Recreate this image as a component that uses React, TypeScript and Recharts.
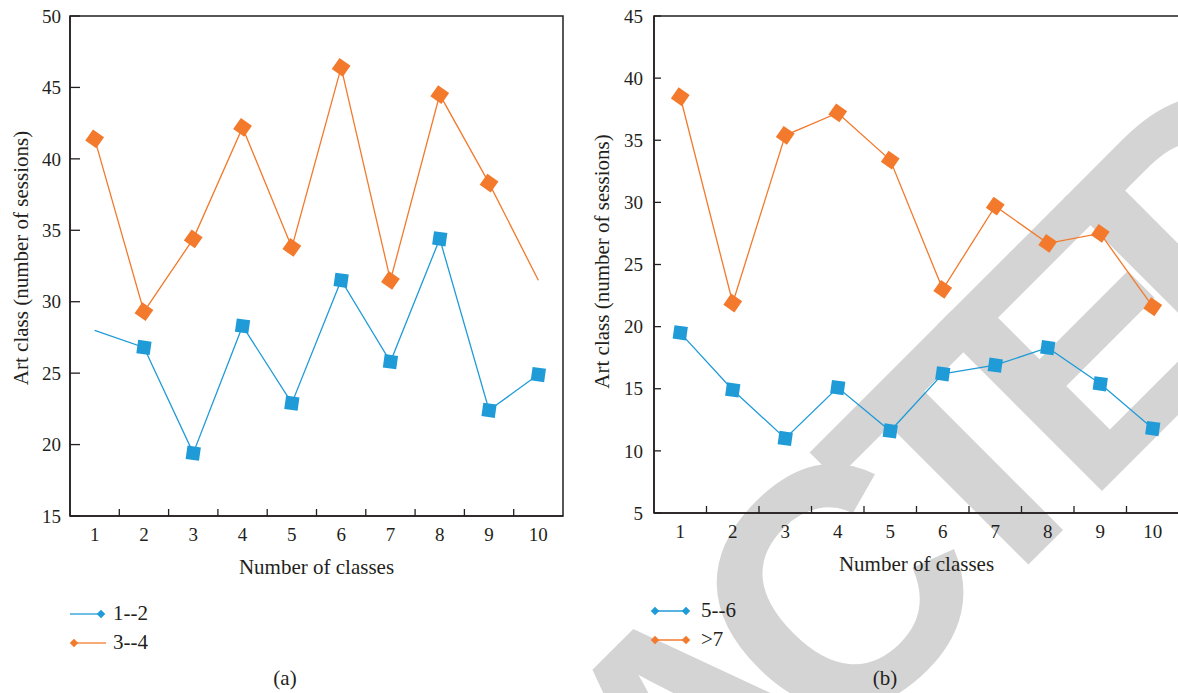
import React from 'react';
import { LineChart, Line, XAxis, YAxis, ReferenceArea } from 'recharts';

const classes = [1, 2, 3, 4, 5, 6, 7, 8, 9, 10];

// panel (a)
const grade12 = [28.0, 26.8, 19.4, 28.3, 22.9, 31.5, 25.8, 34.4, 22.4, 24.9];
const grade34 = [41.4, 29.3, 34.4, 42.2, 33.8, 46.4, 31.5, 44.5, 38.3, 31.5];
// panel (b)
const grade56 = [19.5, 14.9, 11.0, 15.1, 11.6, 16.2, 16.9, 18.3, 15.4, 11.8];
const grade7 = [38.5, 21.9, 35.4, 37.2, 33.4, 23.0, 29.7, 26.7, 27.5, 21.6];

const yTicksA = [15, 20, 25, 30, 35, 40, 45, 50];
const yTicksB = [5, 10, 15, 20, 25, 30, 35, 40, 45];

// points drawn without a marker in the original figure
const bareA12 = [0];
const bareA34 = [9];

const names = { a12: '1--2', a34: '3--4', b56: '5--6', b7: '>7' };

const BLUE = '#1f9bd7';
const ORANGE = '#f37a2c';
const INK = '#231f20';
const FONT = '"Liberation Serif", "DejaVu Serif", serif';
const X_TICK_MARGIN = 12;

const dataA = classes.map((c, i) => ({ cls: c, a12: grade12[i], a34: grade34[i] }));
const dataB = classes.map((c, i) => ({ cls: c, b56: grade56[i], b7: grade7[i] }));

// labels on the classes, small marks half way between them
const xTicks = classes.flatMap((c, i) => (i < classes.length - 1 ? [c, c + 0.5] : [c]));

const XTick = (props: any) => {
  const { x, y, payload } = props;
  const v = payload.value;
  if (Number.isInteger(v)) {
    return (
      <text x={x} y={y} dy="0.71em" textAnchor="middle" fontSize={19} fill={INK} fontFamily={FONT}>
        {v}
      </text>
    );
  }
  const axisY = y - X_TICK_MARGIN;
  return <line x1={x} x2={x} y1={axisY} y2={axisY - 7} stroke={INK} strokeWidth={1.3} />;
};

const makeDot = (color: string, shape: 'square' | 'diamond', bare: number[] = []) => (p: any) => {
  const { cx, cy, index } = p;
  if (cx == null || cy == null || bare.includes(index)) return <g key={`d${index}`} />;
  const s = 13.5;
  const angle = shape === 'square' ? 8 : 35;
  return (
    <rect
      key={`d${index}`}
      x={cx - s / 2}
      y={cy - s / 2}
      width={s}
      height={s}
      fill={color}
      transform={`rotate(${angle} ${cx} ${cy})`}
    />
  );
};

const xTitle = (props: any) => {
  const vb = props.viewBox;
  return (
    <text x={vb.x + vb.width / 2} y={vb.y + 58} textAnchor="middle" fontSize={21} fill={INK} fontFamily={FONT}>
      Number of classes
    </text>
  );
};

const yTitle = (dx: number, dy: number) => (props: any) => {
  const vb = props.viewBox;
  const cx = vb.x + dx;
  const cy = vb.y + vb.height / 2 + dy;
  return (
    <text
      x={cx}
      y={cy}
      transform={`rotate(-90 ${cx} ${cy})`}
      textAnchor="middle"
      dominantBaseline="central"
      fontSize={21}
      fill={INK}
      fontFamily={FONT}
    >
      Art class (number of sessions)
    </text>
  );
};

const PanelA = () => (
  <LineChart width={590} height={590} data={dataA} margin={{ top: 16, right: 27, bottom: 0, left: 0 }}>
    <ReferenceArea x1={0.5} x2={10.5} y1={15} y2={50} fill="none" stroke={INK} strokeWidth={1.5} />
    <XAxis
      type="number"
      dataKey="cls"
      domain={[0.5, 10.5]}
      ticks={xTicks}
      interval={0}
      tick={<XTick />}
      tickLine={false}
      tickSize={0}
      tickMargin={X_TICK_MARGIN}
      height={74}
      axisLine={{ stroke: INK, strokeWidth: 1.5 }}
      label={{ content: xTitle }}
    />
    <YAxis
      type="number"
      domain={[15, 50]}
      ticks={yTicksA}
      interval={0}
      width={70}
      tickSize={-10}
      tickMargin={19}
      axisLine={{ stroke: INK, strokeWidth: 1.5 }}
      tickLine={{ stroke: INK, strokeWidth: 1.3 }}
      tick={{ fill: INK, fontSize: 19, fontFamily: FONT }}
      label={{ content: yTitle(21, -8) }}
    />
    <Line
      type="linear"
      dataKey="a12"
      name={names.a12}
      stroke={BLUE}
      strokeWidth={1.3}
      dot={makeDot(BLUE, 'square', bareA12)}
      activeDot={false}
      isAnimationActive={false}
    />
    <Line
      type="linear"
      dataKey="a34"
      name={names.a34}
      stroke={ORANGE}
      strokeWidth={1.3}
      dot={makeDot(ORANGE, 'diamond', bareA34)}
      activeDot={false}
      isAnimationActive={false}
    />
  </LineChart>
);

const PanelB = () => (
  <LineChart width={600} height={590} data={dataB} margin={{ top: 16, right: 11, bottom: 0, left: 0 }}>
    <ReferenceArea x1={0.5} x2={10.5} y1={5} y2={45} fill="none" stroke={INK} strokeWidth={1.5} />
    <XAxis
      type="number"
      dataKey="cls"
      domain={[0.5, 10.5]}
      ticks={xTicks}
      interval={0}
      tick={<XTick />}
      tickLine={false}
      tickSize={0}
      tickMargin={X_TICK_MARGIN}
      height={77}
      axisLine={{ stroke: INK, strokeWidth: 1.5 }}
      label={{ content: xTitle }}
    />
    <YAxis
      type="number"
      domain={[5, 45]}
      ticks={yTicksB}
      interval={0}
      width={64}
      tickSize={-7}
      tickMargin={18}
      axisLine={{ stroke: INK, strokeWidth: 1.5 }}
      tickLine={{ stroke: INK, strokeWidth: 1.3 }}
      tick={{ fill: INK, fontSize: 19, fontFamily: FONT }}
      label={{ content: yTitle(12, -3) }}
    />
    <Line
      type="linear"
      dataKey="b56"
      name={names.b56}
      stroke={BLUE}
      strokeWidth={1.3}
      dot={makeDot(BLUE, 'square')}
      activeDot={false}
      isAnimationActive={false}
    />
    <Line
      type="linear"
      dataKey="b7"
      name={names.b7}
      stroke={ORANGE}
      strokeWidth={1.3}
      dot={makeDot(ORANGE, 'diamond')}
      activeDot={false}
      isAnimationActive={false}
    />
  </LineChart>
);

const Diamond = ({ x, y, color }: { x: number; y: number; color: string }) => (
  <rect x={x - 3} y={y - 3} width={6} height={6} fill={color} transform={`rotate(45 ${x} ${y})`} />
);

const Legends = () => (
  <svg width={1178} height={693} style={{ position: 'absolute', left: 0, top: 0, pointerEvents: 'none' }}>
    <g fontFamily={FONT} fontSize={21} fill={INK}>
      {/* panel (a) */}
      <line x1={70} x2={102} y1={614} y2={614} stroke={BLUE} strokeWidth={1.3} />
      <Diamond x={101} y={614} color={BLUE} />
      <text x={113} y={620}>{names.a12}</text>
      <line x1={74} x2={106} y1={643} y2={643} stroke={ORANGE} strokeWidth={1.3} />
      <Diamond x={74} y={643} color={ORANGE} />
      <text x={113} y={649}>{names.a34}</text>
      <text x={285} y={685} textAnchor="middle">(a)</text>

      {/* panel (b) */}
      <line x1={655} x2={686} y1={611} y2={611} stroke={BLUE} strokeWidth={1.5} />
      <Diamond x={655} y={611} color={BLUE} />
      <Diamond x={686} y={611} color={BLUE} />
      <text x={701} y={617}>{names.b56}</text>
      <line x1={655} x2={686} y1={640} y2={640} stroke={ORANGE} strokeWidth={1.5} />
      <Diamond x={655} y={640} color={ORANGE} />
      <Diamond x={686} y={640} color={ORANGE} />
      <text x={701} y={646}>{names.b7}</text>
      <text x={885} y={685} textAnchor="middle">(b)</text>
    </g>
  </svg>
);

const Watermark = () => (
  <svg width={1178} height={693} style={{ position: 'absolute', left: 0, top: 0 }}>
    <text
      x={0}
      y={0}
      transform="translate(170 1423) rotate(-45)"
      fontFamily='"Liberation Sans", Arial, sans-serif'
      fontWeight="bold"
      fontSize={340}
      letterSpacing={-47}
      fill="#d4d4d4"
    >
      RETRACTED
    </text>
  </svg>
);

export default function App() {
  return (
    <div
      style={{
        position: 'absolute',
        left: 0,
        top: 0,
        width: 1178,
        height: 693,
        overflow: 'hidden',
        background: '#fff',
      }}
    >
      <Watermark />
      <div style={{ position: 'absolute', left: 0, top: 0 }}>
        <PanelA />
      </div>
      <div style={{ position: 'absolute', left: 590, top: 0 }}>
        <PanelB />
      </div>
      <Legends />
    </div>
  );
}
